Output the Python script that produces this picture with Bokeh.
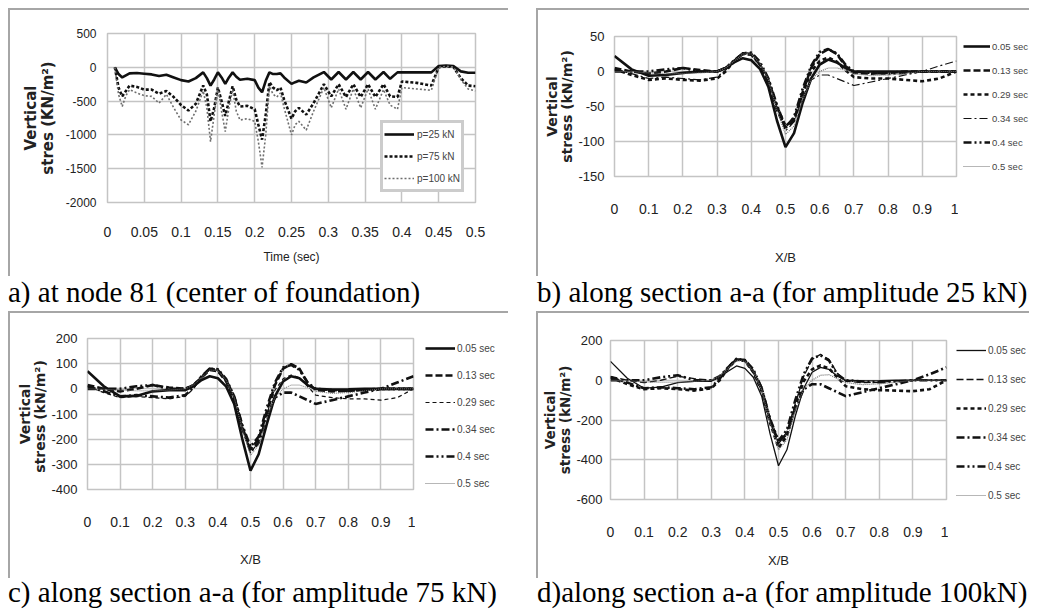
from bokeh.plotting import figure
from bokeh.layouts import row, column
from bokeh.models import Div, Spacer, Legend, LegendItem, FixedTicker, Range1d
from bokeh.embed import file_html
from bokeh.resources import INLINE

# ---------------- data: panel a (time history at node 81) ----------------
t_a = [0.01, 0.015, 0.02, 0.025, 0.03, 0.04, 0.05, 0.06, 0.07, 0.08, 0.09, 0.1,
       0.11, 0.12, 0.13, 0.135, 0.14, 0.145, 0.15, 0.155, 0.16, 0.165, 0.17, 0.175,
       0.18, 0.19, 0.2, 0.205, 0.21, 0.215, 0.22, 0.225, 0.23, 0.235, 0.24, 0.25,
       0.255, 0.26, 0.27, 0.28, 0.294, 0.304, 0.314, 0.324, 0.334, 0.344, 0.354,
       0.364, 0.375, 0.384, 0.394, 0.4, 0.42, 0.44, 0.45, 0.46, 0.47, 0.48, 0.49, 0.5]
p25 = [0, -100, -150, -120, -90, -85, -95, -105, -130, -110, -150, -190,
       -210, -160, -75, -160, -270, -180, -75, -150, -245, -150, -75, -140,
       -185, -170, -190, -300, -370, -200, -75, -100, -100, -90, -150, -245,
       -220, -200, -225, -150, -70, -180, -70, -180, -70, -180, -70,
       -180, -70, -170, -75, -75, -75, -75, 20, 25, 20, -60, -80, -80]
p75 = [0, -300, -430, -350, -270, -290, -330, -330, -390, -350, -440, -560,
       -640, -540, -270, -400, -800, -600, -300, -500, -720, -500, -280, -480,
       -580, -570, -620, -850, -1070, -700, -220, -300, -340, -300, -480, -760,
       -650, -600, -700, -530, -250, -430, -250, -440, -250, -440, -250,
       -440, -250, -430, -440, -210, -230, -270, 0, 15, 5, -160, -270, -280]
p100 = [0, -400, -580, -420, -330, -380, -420, -430, -530, -400, -600, -780,
        -850, -650, -350, -600, -1100, -700, -300, -650, -950, -600, -330, -650,
        -780, -760, -800, -1100, -1480, -1000, -280, -400, -440, -380, -600, -1000,
        -850, -800, -930, -650, -300, -600, -320, -620, -320, -600, -320,
        -620, -330, -560, -620, -300, -320, -340, 0, 15, 5, -180, -320, -350]
series_a = ["p=25 kN", "p=75 kN", "p=100 kN"]
xticks_a = [0, 0.05, 0.1, 0.15, 0.2, 0.25, 0.3, 0.35, 0.4, 0.45, 0.5]
xlabels_a = ["0", "0.05", "0.1", "0.15", "0.2", "0.25", "0.3", "0.35", "0.4", "0.45", "0.5"]
yticks_a = [500, 0, -500, -1000, -1500, -2000]
ylabels_a = ["500", "0", "-500", "-1000", "-1500", "-2000"]

# ---------------- data: panels b, c, d (along section a-a) ----------------
xb = [0, 0.05, 0.1, 0.15, 0.2, 0.25, 0.3, 0.325, 0.35, 0.375, 0.4, 0.425, 0.45,
      0.475, 0.5, 0.525, 0.55, 0.575, 0.6, 0.625, 0.65, 0.675, 0.7, 0.75, 0.8,
      0.85, 0.9, 0.95, 1.0]
series_t = ["0.05 sec", "0.13 sec", "0.29 sec", "0.34 sec", "0.4 sec", "0.5 sec"]

b_005 = [22, 3, -6, -5, -2, 0, 0, 5, 13, 19, 16, 4, -22, -70, -108, -88, -45, -10, 10, 17, 13, 5, 0, 0, 0, 0, 0, 0, 0]
b_013 = [5, 0, -3, 0, 5, 2, 0, 5, 15, 25, 24, 10, -15, -55, -80, -70, -30, 5, 25, 32, 25, 8, -2, -3, -2, 0, 0, 0, 0]
b_029 = [3, -5, -12, -10, -12, -13, -10, 0, 15, 26, 25, 10, -12, -50, -78, -68, -32, 0, 15, 20, 14, 2, -8, -10, -10, -12, -14, -10, 0]
b_034 = [3, -3, -10, -8, -10, -12, -8, 2, 16, 27, 26, 12, -10, -50, -85, -72, -38, -12, -5, -5, -10, -15, -20, -15, -10, -5, 0, 8, 15]
b_04 = [0, 0, 0, 3, 5, 0, 0, 5, 16, 26, 27, 14, -10, -48, -80, -65, -25, 8, 28, 32, 26, 10, 0, -2, -3, -2, 0, 0, 0]
b_05 = [0, 0, -2, -3, -3, -2, 0, 5, 15, 25, 25, 12, -12, -55, -90, -78, -40, -12, 0, 5, 5, 2, -3, -6, -5, -3, 0, 0, 0]

c_005 = [70, 10, -30, -28, -10, -5, -5, 10, 35, 50, 42, 10, -60, -200, -325, -260, -140, -30, 30, 50, 42, 15, 0, -3, -2, 0, 0, 0, 0]
c_013 = [15, 0, -10, 0, 15, 5, 0, 15, 45, 75, 70, 30, -40, -160, -240, -200, -90, 15, 80, 98, 80, 25, -5, -10, -8, -3, 0, 0, 0]
c_029 = [10, -15, -35, -30, -35, -40, -30, 0, 45, 78, 72, 30, -40, -160, -255, -210, -100, -5, 40, 55, 45, 10, -25, -35, -40, -40, -45, -35, 0]
c_034 = [10, -10, -30, -25, -30, -35, -25, 5, 50, 80, 75, 35, -30, -150, -250, -215, -110, -35, -15, -15, -30, -45, -60, -45, -30, -15, 0, 25, 50]
c_04 = [0, 0, 0, 10, 15, 0, 0, 15, 48, 80, 78, 40, -30, -145, -230, -190, -75, 25, 85, 95, 75, 25, 0, -5, -8, -5, 0, 0, 0]
c_05 = [0, -2, -5, -8, -8, -5, 0, 15, 45, 75, 72, 35, -35, -160, -265, -225, -115, -35, 0, 15, 15, 5, -10, -18, -15, -8, 0, 0, 0]

d_005 = [95, 10, -40, -35, -12, -5, -5, 15, 45, 72, 60, 15, -80, -270, -430, -350, -180, -40, 40, 65, 55, 20, 0, -3, -2, 0, 0, 0, 0]
d_013 = [20, 0, -12, 0, 20, 8, 0, 20, 60, 100, 95, 40, -55, -210, -320, -260, -120, 20, 105, 130, 105, 35, -5, -12, -10, -4, 0, 0, 0]
d_029 = [15, -20, -45, -40, -45, -52, -40, 0, 60, 105, 98, 40, -55, -215, -340, -280, -130, -5, 55, 75, 60, 15, -30, -45, -50, -52, -55, -45, 0]
d_034 = [15, -12, -40, -35, -40, -45, -35, 8, 65, 108, 100, 45, -40, -200, -310, -270, -140, -45, -20, -20, -40, -60, -80, -60, -40, -20, 0, 30, 65]
d_04 = [0, 0, 0, 15, 25, 0, 0, 20, 65, 105, 102, 55, -40, -195, -305, -250, -100, 30, 110, 125, 100, 30, 0, -6, -10, -6, 0, 0, 0]
d_05 = [0, -3, -8, -10, -10, -6, 0, 20, 60, 100, 95, 45, -50, -215, -350, -300, -150, -45, 0, 25, 28, 8, -12, -22, -18, -10, 0, 0, 0]

xticks_b = [0, 0.1, 0.2, 0.3, 0.4, 0.5, 0.6, 0.7, 0.8, 0.9, 1]
xlabels_b = ["0", "0.1", "0.2", "0.3", "0.4", "0.5", "0.6", "0.7", "0.8", "0.9", "1"]
yticks_b = [50, 0, -50, -100, -150]
ylabels_b = ["50", "0", "-50", "-100", "-150"]
yticks_c = [200, 100, 0, -100, -200, -300, -400]
ylabels_c = ["200", "100", "0", "-100", "-200", "-300", "-400"]
yticks_d = [200, 0, -200, -400, -600]
ylabels_d = ["200", "0", "-200", "-400", "-600"]

captions = ["a) at node 81 (center of foundation)",
            "b) along section a-a (for amplitude 25 kN)",
            "c) along section a-a (for amplitude 75 kN)",
            "d)along section a-a (for amplitude 100kN)"]

# ---------------- styling ----------------
SANS = "Liberation Sans"
BOLD = "DejaVu Sans"
SERIF = "Liberation Serif"
BLACK = "#111111"
GREY = "#6e6e6e"
GRID = "#c4c4c4"
EDGE = "#a6a6a6"


def make_fig(xr, yr, xt, xl, yt, yl, xtitle, ytitle, geom, st):
    w, h, left, top, right, bottom = geom
    p = figure(width=w, height=h, min_border_left=left, min_border_top=top,
               min_border_right=right, min_border_bottom=bottom,
               x_range=Range1d(*xr), y_range=Range1d(*yr),
               output_backend="svg", toolbar_location=None)
    p.margin = 0
    p.background_fill_color = "white"
    p.border_fill_color = "white"
    p.outline_line_color = GRID
    p.outline_line_width = 1.5
    for ax in (p.xaxis[0], p.yaxis[0]):
        ax.axis_line_color = None
        ax.major_tick_line_color = None
        ax.minor_tick_line_color = None
        ax.major_tick_out = 0
        ax.major_tick_in = 0
        ax.minor_tick_out = 0
        ax.minor_tick_in = 0
        ax.major_label_text_font = SANS
        ax.major_label_text_color = "#222222"
    p.xaxis.ticker = FixedTicker(ticks=xt)
    p.yaxis.ticker = FixedTicker(ticks=yt)
    p.xaxis.major_label_overrides = dict(zip(xt, xl))
    p.yaxis.major_label_overrides = dict(zip(yt, yl))
    p.xaxis.major_label_text_font_size = st["xtick"]
    p.yaxis.major_label_text_font_size = st["ytick"]
    p.xaxis.major_label_standoff = st["xstand"]
    p.yaxis.major_label_standoff = st["ystand"]
    p.xaxis.axis_label = xtitle
    p.xaxis.axis_label_text_font = SANS
    p.xaxis.axis_label_text_font_style = "normal"
    p.xaxis.axis_label_text_font_size = st["xtitle"]
    p.xaxis.axis_label_standoff = st["xlstand"]
    p.xaxis.axis_label_text_color = "#222222"
    p.yaxis.axis_label = ytitle
    p.yaxis.axis_label_text_font = BOLD
    p.yaxis.axis_label_text_font_style = "bold"
    p.yaxis.axis_label_text_font_size = st["ytitle"]
    p.yaxis.axis_label_text_line_height = 0.95
    p.yaxis.axis_label_standoff = st["ylstand"]
    p.yaxis.axis_label_text_color = "#222222"
    p.xgrid.grid_line_color = GRID
    p.ygrid.grid_line_color = GRID
    p.xgrid.grid_line_width = 1.5
    p.ygrid.grid_line_width = 1.5
    return p


def add_lines(p, xs, ys_list, styles):
    rs = []
    for ys, (w, dash, col) in zip(ys_list, styles):
        rs.append(p.line(xs, ys, line_width=w, line_dash=dash, line_color=col))
    return rs


def legend_fig(w, h, xs, ys_list, labels, styles, left, top, spacing, gw, fs):
    # a small canvas carrying only the key of the neighbouring chart;
    # its x-range lies outside the data so the series themselves stay out of view
    q = figure(width=w, height=h, min_border_left=left, min_border_right=0,
               min_border_bottom=0, min_border_top=top, output_backend="svg",
               toolbar_location=None, x_range=Range1d(2, 3), y_range=Range1d(0, 1))
    q.margin = 0
    q.axis.visible = False
    q.grid.visible = False
    q.outline_line_color = None
    q.background_fill_color = "white"
    q.border_fill_color = "white"
    rs = add_lines(q, xs, ys_list, styles)
    items = [LegendItem(label=lab, renderers=[r]) for lab, r in zip(labels, rs)]
    leg = Legend(items=items, location="top_left", padding=0, spacing=spacing, margin=0,
                 glyph_width=gw, glyph_height=20, label_height=20, label_standoff=2,
                 label_text_font=SANS, label_text_font_size=fs,
                 border_line_color=None, background_fill_alpha=0)
    q.add_layout(leg)
    return q


# ---------------- panel a ----------------
fa = make_fig((0, 0.5), (-2000, 500), xticks_a, xlabels_a, yticks_a, ylabels_a,
              "Time (sec)", "Vertical\nstres (KN/m\u00b2)", (498, 266, 97, 23, 33, 74),
              dict(xtick="14px", ytick="12px", xstand=24, ystand=11, xtitle="12px",
                   xlstand=10, ytitle="15px", ylstand=6))
rs_a = add_lines(fa, t_a, [p25, p75, p100],
                 [(2.6, "solid", BLACK), (2.6, "3 2", BLACK), (1.6, "2 2", GREY)])
leg_a = Legend(items=[LegendItem(label=l, renderers=[r]) for l, r in zip(series_a, rs_a)],
               location=(273, 10), padding=1, spacing=2, margin=0,
               glyph_width=30, glyph_height=20, label_height=20, label_standoff=3,
               label_text_font=SANS, label_text_font_size="10px",
               border_line_color="#9a9a9a", border_line_width=3,
               background_fill_color="white", background_fill_alpha=1)
fa.add_layout(leg_a)

# ---------------- panels b, c, d ----------------
sty_b = [(2.6, "solid", BLACK), (2.6, "7 3", BLACK), (2.6, "4 3", BLACK),
         (1.2, "8 3 2 3", BLACK), (2.6, "8 3 2 3 2 3", BLACK), (1.2, "1 1", GREY)]
sty_c = [(2.6, "solid", BLACK), (2.6, "7 3", BLACK), (1.2, "4 3", BLACK),
         (2.6, "8 3 2 3", BLACK), (2.6, "8 3 2 3 2 3", BLACK), (1.0, "1 1", GREY)]
sty_d = [(1.3, "solid", BLACK), (1.3, "7 3", BLACK), (2.6, "4 3", BLACK),
         (2.6, "8 3 2 3", BLACK), (2.6, "8 3 2 3 2 3", BLACK), (1.2, "1 1", GREY)]

ys_b = [b_005, b_013, b_029, b_034, b_04, b_05]
ys_c = [c_005, c_013, c_029, c_034, c_04, c_05]
ys_d = [d_005, d_013, d_029, d_034, d_04, d_05]

fb = make_fig((0, 1), (-150, 50), xticks_b, xlabels_b, yticks_b, ylabels_b,
              "X/B", "Vertical\nstress (kN/m\u00b2)", (420, 266, 76, 26, 2, 100),
              dict(xtick="14px", ytick="13px", xstand=27, ystand=10, xtitle="13px",
                   xlstand=33, ytitle="14px", ylstand=0))
add_lines(fb, xb, ys_b, sty_b)
lb = legend_fig(71, 266, xb, ys_b, series_t, sty_b, 5, 24, 4, 27, "9.5px")

fc = make_fig((0, 1), (-400, 200), xticks_b, xlabels_b, yticks_c, ylabels_c,
              "X/B", "Vertical\nstress  (kN/m\u00b2)", (405, 265, 77, 25, 2, 89),
              dict(xtick="14px", ytick="13px", xstand=27, ystand=10, xtitle="13px",
                   xlstand=22, ytitle="14px", ylstand=0))
add_lines(fc, xb, ys_c, sty_c)
lc = legend_fig(93, 265, xb, ys_c, series_t, sty_c, 10, 23, 7, 30, "10px")

fd = make_fig((0, 1), (-600, 200), xticks_b, xlabels_b, yticks_d, ylabels_d,
              "X/B", "Vertical\nstress (kN/m\u00b2)", (410, 265, 72, 13, 2, 79),
              dict(xtick="14px", ytick="13px", xstand=27, ystand=8, xtitle="13px",
                   xlstand=13, ytitle="13.5px", ylstand=0))
add_lines(fd, xb, ys_d, sty_d)
ld = legend_fig(81, 265, xb, ys_d, series_t, sty_d, 8, 27, 9, 30, "10px")


def edge(w, h):
    return Div(text="", width=w, height=h, margin=0, styles={"background-color": EDGE})


def caption(text, w, h, lh):
    return Div(text=text, width=w, height=h, margin=0,
               styles={"font-family": SERIF, "font-size": "29px", "line-height": lh,
                       "color": "black", "white-space": "nowrap"})


top_row = row(Spacer(width=8, height=268, margin=0),
              edge(2, 268), column(edge(498, 2), fa, margin=0),
              Spacer(width=28, height=268, margin=0),
              edge(2, 268), column(edge(491, 2), row(fb, lb, margin=0), margin=0),
              margin=0)
cap_row1 = row(Spacer(width=8, height=35, margin=0),
               caption(captions[0], 529, 35, "33px"),
               caption(captions[1], 492, 35, "33px"), margin=0)
bot_row = row(Spacer(width=8, height=267, margin=0),
              edge(2, 267), column(edge(498, 2), row(fc, lc, margin=0), margin=0),
              Spacer(width=28, height=267, margin=0),
              edge(2, 267), column(edge(491, 2), row(fd, ld, margin=0), margin=0),
              margin=0)
cap_row2 = row(Spacer(width=8, height=25, margin=0),
               caption(captions[2], 529, 25, "29px"),
               caption(captions[3], 492, 25, "29px"), margin=0)

layout = column(Spacer(width=1029, height=8, margin=0),
                top_row, cap_row1, bot_row, cap_row2, margin=0)

open("out.html", "w").write(file_html(layout, INLINE))
